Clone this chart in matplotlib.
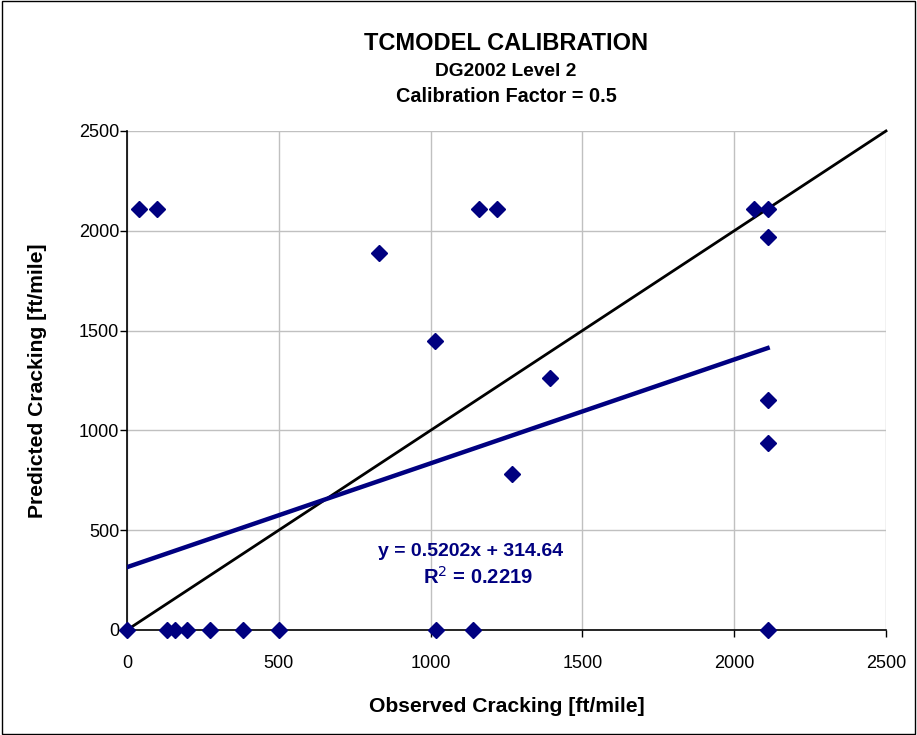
import matplotlib
matplotlib.use("Agg")
import matplotlib.pyplot as plt
from matplotlib.patches import Rectangle

plt.rcParams['font.family'] = ['Liberation Sans', 'DejaVu Sans']

# observed vs predicted cracking, ft/mile
observed = [0, 131, 158, 197, 273, 381, 502, 1018, 1139, 2110,
            40, 98, 1160, 1219, 2065, 2110,
            829, 1016, 1394, 1267, 2110, 2110, 2110]
predicted = [0, 0, 0, 0, 0, 0, 0, 0, 0, 0,
             2110, 2110, 2110, 2110, 2110, 2110,
             1887, 1450, 1261, 781, 1967, 1152, 935]

# linear trend from the spreadsheet fit
slope = 0.5202
intercept = 314.64
r2 = 0.2219

navy = '#000080'

fig = plt.figure(figsize=(9.17, 7.35), dpi=100)
ax = fig.add_axes([0.1385, 0.1429, 0.8277, 0.6789])

ax.set_xlim(0, 2500)
ax.set_ylim(0, 2500)
ax.set_xticks(range(0, 2501, 500))
ax.set_yticks(range(0, 2501, 500))
ax.grid(True, color='#c0c0c0', lw=1)
ax.set_axisbelow(True)
for s in ['top', 'right']:
    ax.spines[s].set_visible(False)
for s in ['left', 'bottom']:
    ax.spines[s].set_color('black')
    ax.spines[s].set_linewidth(1.2)
ax.tick_params(direction='out', length=5, width=1, labelsize=13)
ax.tick_params(axis='x', pad=13)
ax.tick_params(axis='y', pad=0.5)

# line of equality
ax.plot([0, 2500], [0, 2500], color='black', lw=2, clip_on=False, zorder=3)

# trendline over the range of observed values
xmax = max(observed)
ax.plot([0, xmax], [intercept, intercept + slope * xmax], color=navy, lw=3.2, zorder=3)

ax.plot(observed, predicted, 'D', color=navy, ms=8.5, ls='none', clip_on=False, zorder=4)

ax.text(1130, 394, 'y = 0.5202x + 314.64', color=navy, fontsize=14, fontweight='bold',
        ha='center', va='center')
ax.text(1156, 264, 'R$^2$ = %.4f' % r2, color=navy, fontsize=14.5, fontweight='bold',
        ha='center', va='center')

ax.set_xlabel('Observed Cracking [ft/mile]', fontsize=15.2, fontweight='bold', labelpad=18)
ax.set_ylabel('Predicted Cracking [ft/mile]', fontsize=15.2, fontweight='bold', labelpad=23)

fig.text(0.552, 1 - 44 / 735, 'TCMODEL CALIBRATION', ha='center', va='center',
         fontsize=17, fontweight='bold')
fig.text(0.552, 1 - 72 / 735, 'DG2002 Level 2', ha='center', va='center',
         fontsize=13.8, fontweight='bold')
fig.text(0.552, 1 - 97 / 735, 'Calibration Factor = 0.5', ha='center', va='center',
         fontsize=14.3, fontweight='bold')

# outer chart border
fig.patches.append(Rectangle((0.002, 0.002), 0.996, 0.996, transform=fig.transFigure,
                             fill=False, edgecolor='black', lw=1))

fig.savefig('out.png', dpi=100)
